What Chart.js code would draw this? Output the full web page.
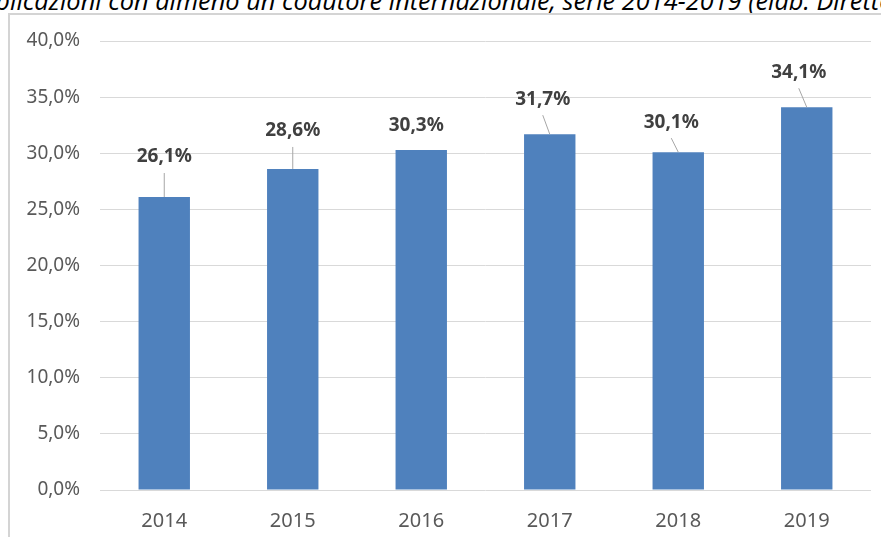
<!DOCTYPE html>
<html>
<head>
<meta charset="utf-8">
<script src="https://cdn.jsdelivr.net/npm/chart.js@4.4.0/dist/chart.umd.min.js"></script>
<style>
  html, body { margin: 0; padding: 0; background: #fff; overflow: hidden; }
  #wrap { position: relative; width: 881px; height: 537px; overflow: hidden; }
  #title {
    position: absolute; left: -36px; top: -17px; white-space: nowrap; line-height: 28px;
    font: italic 21px "Open Sans", sans-serif; color: #000;
  }
  #frame {
    position: absolute; left: 8px; top: 13px; width: 1000px; height: 1000px;
    border-left: 2px solid #d4d4d4; border-top: 2px solid #d4d4d4;
    pointer-events: none;
  }
  canvas { position: absolute; left: 0; top: 0; }
</style>
</head>
<body>
<div id="wrap">
  <div id="title">Pubblicazioni con almeno un coautore internazionale, serie 2014-2019 (elab. Direttore Generale)</div>
  <canvas id="chart" width="881" height="537"></canvas>
  <div id="frame"></div>
</div>
<script>
const years = ['2014', '2015', '2016', '2017', '2018', '2019'];
const shares = [26.1, 28.6, 30.3, 31.7, 30.1, 34.1];

// where each data label sits relative to the top of its bar (px)
const labelOffsets = [[0, -40], [0, -38], [-5, -24], [-7, -35], [-7, -30], [-8, -35]];

const pct = v => v.toFixed(1).replace('.', ',') + '%';

// the caption is cropped in the original: fit it so "licazioni ... serie" spans like there
(function placeTitle() {
  const el = document.getElementById('title');
  const m = document.createElement('canvas').getContext('2d');
  m.font = 'italic 100px "Open Sans"';
  const span = m.measureText('licazioni con almeno un coautore internazionale, ').width;
  const size = 100 * 553 / span;
  m.font = 'italic ' + size + 'px "Open Sans"';
  el.style.fontSize = size + 'px';
  el.style.left = (10 - m.measureText('Pubb').width) + 'px';
})();

// data labels with leader lines, like the spreadsheet original
const barLabels = {
  id: 'barLabels',
  afterDatasetsDraw(chart) {
    const ctx = chart.ctx;
    const meta = chart.getDatasetMeta(0);
    ctx.save();
    ctx.font = 'bold 19px "Noto Sans", sans-serif';
    ctx.textAlign = 'center';
    ctx.textBaseline = 'middle';
    meta.data.forEach((bar, i) => {
      const [dx, dy] = labelOffsets[i];
      const lx = bar.x + dx;
      const ly = bar.y + dy;
      if (dy < -28) {
        ctx.strokeStyle = '#a6a6a6';
        ctx.lineWidth = 1;
        ctx.beginPath();
        ctx.moveTo(lx, ly + 16);
        ctx.lineTo(bar.x, bar.y);
        ctx.stroke();
      }
      ctx.fillStyle = '#404040';
      ctx.fillText(pct(shares[i]), lx, ly);
    });
    ctx.restore();
  }
};

new Chart(document.getElementById('chart'), {
  type: 'bar',
  data: {
    labels: years,
    datasets: [{
      data: shares,
      backgroundColor: '#4f81bd',
      barPercentage: 0.4,
      categoryPercentage: 1
    }]
  },
  options: {
    responsive: false,
    animation: false,
    layout: { padding: { top: 41, right: 10, left: 0, bottom: 0 } },
    plugins: { legend: { display: false }, tooltip: { enabled: false } },
    scales: {
      x: {
        grid: { display: false },
        border: { display: false },
        ticks: { color: '#595959', padding: 11, font: { family: 'Noto Sans', size: 20 } },
        afterFit(s) { s.height = 47; }
      },
      y: {
        min: 0,
        max: 40,
        grid: { color: '#d9d9d9', drawTicks: false },
        border: { display: false },
        ticks: {
          stepSize: 5,
          color: '#595959',
          padding: 20,
          font: { family: 'Noto Sans', size: 19 },
          callback: v => pct(v)
        },
        afterFit(s) { s.width = 100; }
      }
    }
  },
  plugins: [barLabels]
});
</script>
</body>
</html>
